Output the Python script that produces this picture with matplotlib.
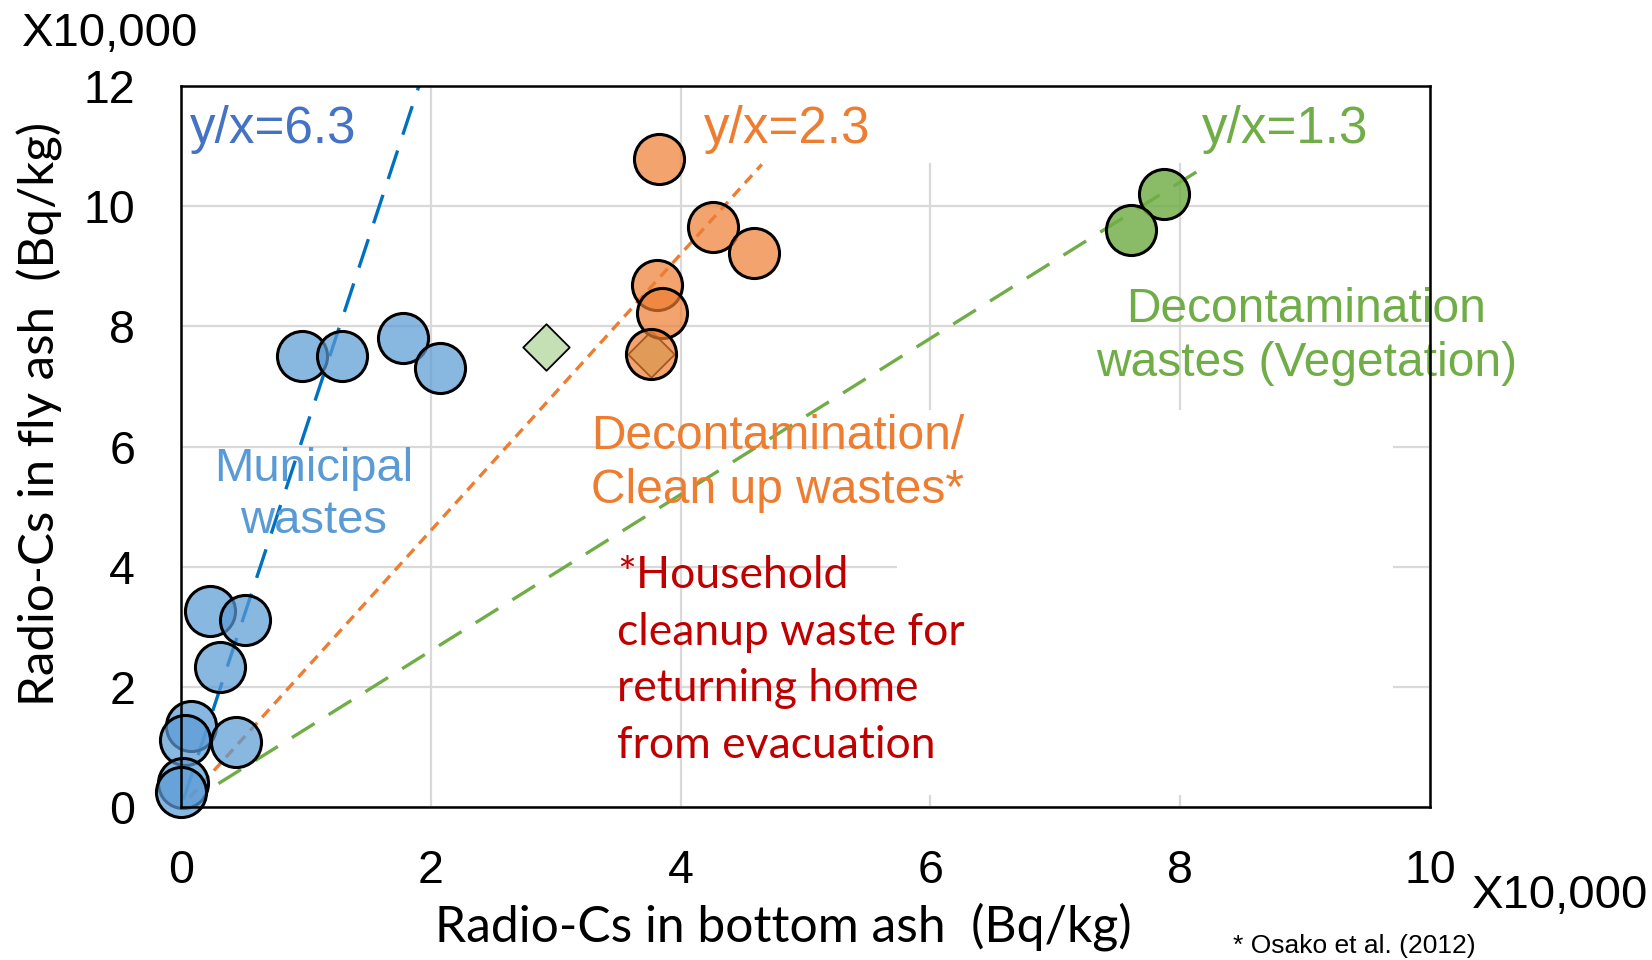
import matplotlib
matplotlib.use("Agg")
import matplotlib.pyplot as plt
from matplotlib.patches import Rectangle

# ---------------- data (x10,000 Bq/kg) ----------------
municipal_x = [0.97, 1.29, 1.78, 2.07, 0.23, 0.51, 0.31, 0.08, 0.03, 0.44, 0.02, 0.00]
municipal_y = [7.50, 7.50, 7.81, 7.31, 3.26, 3.11, 2.33, 1.35, 1.12, 1.09, 0.40, 0.25]

cleanup_x = [3.83, 4.26, 4.59, 3.81, 3.85, 3.76]
cleanup_y = [10.79, 9.66, 9.22, 8.69, 8.22, 7.54]

vegetation_x = [7.87, 7.61]
vegetation_y = [10.20, 9.61]

household_x = [2.92, 3.76]
household_y = [7.66, 7.54]

ratio_values = [6.3, 2.3, 1.3]
ratio_x_start = [0.02, 0.07, 0.30]
ratio_x_end = [12 / 6.3, 4.65, 8.20]
ratio_labels = ["y/x=6.3", "y/x=2.3", "y/x=1.3"]

x_ticks = [0, 2, 4, 6, 8, 10]
y_ticks = [0, 2, 4, 6, 8, 10, 12]

# ---------------- figure ----------------
W, H = 1652, 960
fig = plt.figure(figsize=(W / 100, H / 100), dpi=100)
ax = fig.add_axes([181 / W, 1 - 807 / H, (1430 - 181) / W, (807 - 86) / H])
ax.set_xlim(0, 10)
ax.set_ylim(0, 12)

ARIAL = ["Liberation Sans", "DejaVu Sans"]
CALIBRI = ["Lato", "DejaVu Sans"]
NARROW = ["Liberation Sans Narrow", "Liberation Sans", "DejaVu Sans"]

# grid and frame
ax.set_axisbelow(True)
ax.grid(True, color="#d9d9d9", lw=1.6)
for s in ax.spines.values():
    s.set_linewidth(1.8)
    s.set_color("black")
    s.set_zorder(6)

# white areas that mask gridlines in the original graphic
ax.add_patch(Rectangle((0.443, 0.893), 0.529, 0.107, transform=ax.transAxes,
                       facecolor="white", edgecolor="none", zorder=0.8))
ax.add_patch(Rectangle((0.573, 0.016), 0.397, 0.534, transform=ax.transAxes,
                       facecolor="white", edgecolor="none", zorder=0.8))

ax.set_xticks(x_ticks)
ax.set_yticks(y_ticks)
ax.set_xticklabels([str(v) for v in x_ticks], fontfamily=ARIAL, fontsize=33.5)
ax.set_yticklabels([str(v) for v in y_ticks], fontfamily=ARIAL, fontsize=33.5)
ax.tick_params(axis="both", length=0)
ax.tick_params(axis="x", pad=30)
ax.tick_params(axis="y", pad=33)

# ratio lines
line_colors = ["#0070c0", "#ed7d31", "#70ad47"]
line_dashes = [(9, 5), (3.2, 2.2), (8, 5)]
for r, x0, x1, c, d in zip(ratio_values, ratio_x_start, ratio_x_end, line_colors, line_dashes):
    ax.plot([x0, x1], [r * x0, r * x1], color=c, lw=2.4, dashes=d, zorder=2)

# points
ax.scatter(household_x, household_y, marker="D", s=560, facecolor="#c5e0b4",
           edgecolor="black", linewidths=1.3, zorder=3, clip_on=False)
ax.scatter(municipal_x, municipal_y, s=1300, facecolor=(0.357, 0.608, 0.835, 0.72),
           edgecolor="black", linewidths=2.2, zorder=4, clip_on=False)
ax.scatter(cleanup_x, cleanup_y, s=1300, facecolor=(0.929, 0.490, 0.192, 0.70),
           edgecolor="black", linewidths=2.2, zorder=4, clip_on=False)
ax.scatter(vegetation_x, vegetation_y, s=1300, facecolor=(0.439, 0.678, 0.278, 0.82),
           edgecolor="black", linewidths=2.2, zorder=4, clip_on=False)

# ratio labels
label_colors = ["#4472c4", "#ed7d31", "#70ad47"]
label_x = [0.07, 4.19, 8.17]
for t, c, lx in zip(ratio_labels, label_colors, label_x):
    ax.text(lx, 11.27, t, color=c, fontsize=36.8, fontfamily=ARIAL,
            ha="left", va="center", zorder=5)

# group labels
ax.text(1.06, 5.19, "Municipal\nwastes", color="#5b9bd5", fontsize=34,
        fontfamily=ARIAL, ha="center", va="center", multialignment="center",
        linespacing=1.25, zorder=5)
ax.text(3.28, 5.72, "Decontamination/\nClean up wastes*", color="#ed7d31",
        fontsize=34.5, fontfamily=ARIAL, ha="left", va="center", linespacing=1.27,
        zorder=5)
ax.text(9.01, 7.83, "Decontamination\nwastes (Vegetation)", color="#70ad47",
        fontsize=34.5, fontfamily=ARIAL, ha="center", va="center",
        multialignment="center", linespacing=1.27, zorder=5, clip_on=False)
ax.text(3.49, 2.44, "*Household\ncleanup waste for\nreturning home\nfrom evacuation",
        color="#c00000", fontsize=32, fontfamily=CALIBRI, ha="left", va="center",
        linespacing=1.47, zorder=5)

# axis labels
ax.set_xlabel("Radio-Cs in bottom ash  (Bq/kg)", fontsize=35.8, fontfamily=CALIBRI,
              va="center", ha="center")
ax.xaxis.set_label_coords((783 - 181) / 1249, (807 - 927) / 721)
ax.set_ylabel("Radio-Cs in fly ash  (Bq/kg)", fontsize=35.5, fontfamily=CALIBRI,
              va="center", ha="center")
ax.yaxis.set_label_coords((40 - 181) / 1249, (807 - 414) / 721)

# unit multipliers and source
fig.text(110 / W, 1 - 34 / H, "X10,000", fontsize=34, fontfamily=ARIAL,
         ha="center", va="center")
fig.text(1560 / W, 1 - 896 / H, "X10,000", fontsize=34, fontfamily=ARIAL,
         ha="center", va="center")
fig.text(1354 / W, 1 - 946 / H, "* Osako et al. (2012)", fontsize=19,
         fontfamily=NARROW, ha="center", va="center")

fig.savefig("out.png", dpi=100, facecolor="white")
